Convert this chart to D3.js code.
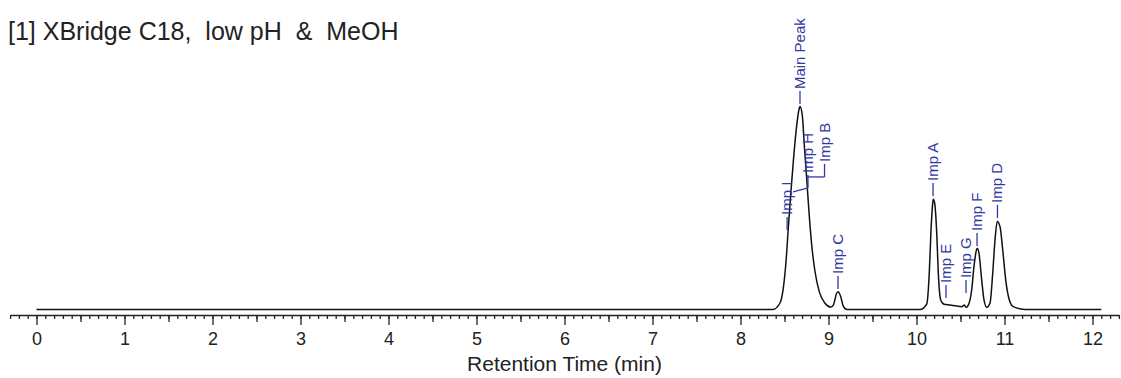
<!DOCTYPE html>
<html>
<head>
<meta charset="utf-8">
<script src="https://cdn.jsdelivr.net/npm/d3@7"></script>
<style>
  body { margin: 0; background: #fff; }
  svg { display: block; font-family: Arial, "Liberation Sans", sans-serif; }
  .tick line { stroke: #222; stroke-width: 1.3; }
  .tick text { fill: #222; }
</style>
</head>
<body>
<svg id="chart" width="1121" height="378"></svg>
<script>
var title = "[1] XBridge C18,  low pH  &  MeOH";
var xTitle = "Retention Time (min)";

// chromatogram trace: retention time (min), signal (main peak ~100)
var traceTime = [0, 8.369, 8.449, 8.486, 8.517, 8.543, 8.570, 8.600, 8.631, 8.668, 8.676,
    8.702, 8.725, 8.752, 8.778, 8.809, 8.847, 8.895, 8.960, 9.025,
    9.055, 9.093, 9.111, 9.139, 9.168, 9.210,
    10.040, 10.116, 10.145, 10.165, 10.184, 10.191, 10.207, 10.230, 10.248, 10.275,
    10.313, 10.381, 10.457, 10.514, 10.543, 10.563, 10.589,
    10.627, 10.653, 10.684, 10.691, 10.710, 10.741, 10.767, 10.798,
    10.835, 10.866, 10.892, 10.918, 10.949, 10.980, 11.014, 11.055, 11.100, 11.233, 12.1];
var traceSignal = [0, 0, 3.2, 10.4, 23.5, 40.0, 56.4, 72.8, 87.6, 99.1, 100,
    95.8, 81.0, 64.6, 48.2, 31.8, 18.6, 8.8, 3.1, 1.2,
    2.2, 8.0, 8.8, 6.3, 1.7, 0,
    0, 2.7, 17.8, 39.2, 52.3, 54.3, 52.3, 37.5, 17.8, 4.7,
    2.6, 2.2, 1.7, 1.4, 2.2, 1.1, 2.2,
    9.6, 21.1, 29.7, 30.1, 27.7, 14.5, 4.7, 1.1,
    3.1, 17.8, 34.2, 43.3, 40.8, 29.3, 14.5, 4.7, 1.4, 0, 0];

// peak labels: name, time and signal where the label starts
var peakNames  = ["Main Peak", "Imp I", "Imp H", "Imp B", "Imp C", "Imp A", "Imp E", "Imp G", "Imp F", "Imp D"];
var labelTime  = [8.676, 8.530, 8.767, 8.955, 9.108, 10.188, 10.335, 10.563, 10.688, 10.920];
var labelSig   = [101.2, 39.2, 59.9, 65.3, 10.1, 55.9, 5.7, 8.1, 31.3, 45.1];
// leader start on the trace (null = straight above the peak)
var leaderTime = [null, null, 8.598, 8.750, null, null, null, null, null, null];
var leaderSig  = [null, null, 57.9, 65.3, null, null, null, null, null, null];

var majorTicks = d3.range(0, 13);

var svg = d3.select("#chart");

var x = d3.scaleLinear().domain([-0.3, 12.3]).range([10.1, 1118.9]);
var y = d3.scaleLinear().domain([0, 100]).range([309.5, 106.5]);

// title
svg.append("text")
    .attr("x", 8).attr("y", 40)
    .attr("font-size", 25)
    .attr("fill", "#222")
    .style("white-space", "pre")
    .text(title);

// axis: minor 0.1, half 0.5, major 1
var axisY = 315;
var minor = d3.range(-3, 124).map(function(i){ return i / 10; });
var half = d3.range(0, 25).map(function(i){ return i / 2; }).filter(function(d){ return d % 1 != 0; });

svg.append("g").attr("transform", "translate(0," + axisY + ")")
    .call(d3.axisBottom(x).tickValues(minor).tickSize(4).tickFormat("").tickSizeOuter(0))
    .call(function(g){ g.select(".domain").attr("stroke", "#222").attr("stroke-width", 1.5); });

svg.append("g").attr("transform", "translate(0," + axisY + ")")
    .call(d3.axisBottom(x).tickValues(half).tickSize(7).tickFormat("").tickSizeOuter(0))
    .call(function(g){ g.select(".domain").remove(); });

svg.append("g").attr("transform", "translate(0," + axisY + ")")
    .call(d3.axisBottom(x).tickValues(majorTicks).tickSize(10).tickPadding(7).tickFormat(d3.format("d")))
    .call(function(g){
        g.select(".domain").remove();
        g.selectAll("text").attr("font-size", 18).attr("font-family", "Arial, 'Liberation Sans', sans-serif");
    });

svg.append("text")
    .attr("x", x(6)).attr("y", 371)
    .attr("text-anchor", "middle")
    .attr("font-size", 21)
    .attr("fill", "#222")
    .text(xTitle);

// trace
var points = traceTime.map(function(t, i){ return [t, traceSignal[i]]; });
var line = d3.line()
    .x(function(d){ return x(d[0]); })
    .y(function(d){ return y(d[1]); })
    .curve(d3.curveMonotoneX);

svg.append("path")
    .datum(points)
    .attr("d", line)
    .attr("fill", "none")
    .attr("stroke", "#111")
    .attr("stroke-width", 1.5);

// labels
var blue = "#3238a0";
var lab = svg.append("g");

peakNames.forEach(function(name, i){
    var lx = x(labelTime[i]), ly = y(labelSig[i]);
    if (leaderTime[i] != null) {
        lab.append("polyline")
            .attr("points", [x(leaderTime[i]), y(leaderSig[i]), lx, ly].join(","))
            .attr("fill", "none").attr("stroke", blue).attr("stroke-width", 1.3);
    }
    lab.append("line")
        .attr("x1", lx).attr("x2", lx)
        .attr("y1", ly).attr("y2", ly - 13)
        .attr("stroke", blue).attr("stroke-width", 1.3);
    lab.append("text")
        .attr("transform", "translate(" + (lx + 5) + "," + (ly - 15) + ") rotate(-90)")
        .attr("font-size", 15)
        .attr("fill", blue)
        .text(name);
});
</script>
</body>
</html>
